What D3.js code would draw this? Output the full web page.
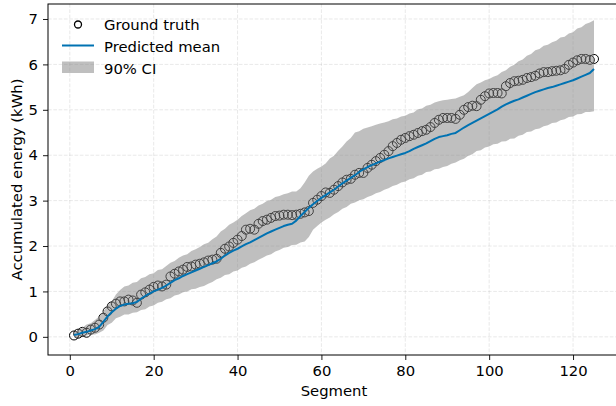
<!DOCTYPE html>
<html>
<head>
<meta charset="utf-8">
<script src="https://cdn.jsdelivr.net/npm/d3@7"></script>
<style>
  body { margin: 0; background: #fff; }
  svg { display: block; font-family: "DejaVu Sans", sans-serif; }
</style>
</head>
<body>
<div id="chart"></div>
<script>
var svgWidth = 616;
var svgHeight = 406;
var fontSize = 14.8;

// ground truth accumulated energy per segment (kWh)
var groundTruth = [
  0.03,0.07,0.11,0.09,0.16,0.20,0.27,0.42,0.56,0.67,
  0.73,0.78,0.78,0.82,0.80,0.75,0.93,0.98,1.04,1.10,
  1.13,1.11,1.15,1.33,1.39,1.44,1.48,1.54,1.55,1.59,
  1.61,1.64,1.68,1.70,1.72,1.85,1.94,1.99,2.07,2.14,
  2.22,2.36,2.38,2.36,2.49,2.55,2.58,2.62,2.66,2.67,
  2.69,2.69,2.68,2.69,2.71,2.74,2.77,2.95,3.02,3.10,
  3.18,3.17,3.24,3.32,3.40,3.46,3.48,3.57,3.61,3.61,
  3.72,3.79,3.87,3.94,4.01,4.09,4.20,4.27,4.34,4.38,
  4.42,4.45,4.49,4.53,4.56,4.62,4.71,4.78,4.82,4.82,
  4.82,4.80,4.89,5.00,5.06,5.09,5.08,5.22,5.30,5.36,
  5.37,5.37,5.36,5.52,5.59,5.63,5.64,5.66,5.70,5.72,
  5.75,5.80,5.83,5.83,5.85,5.86,5.87,5.90,5.99,6.04,
  6.09,6.12,6.12,6.10,6.12
];

// predicted mean
var predMean = [
  0.04,0.06,0.09,0.11,0.14,0.17,0.22,0.33,0.45,0.54,
  0.62,0.68,0.71,0.73,0.74,0.77,0.84,0.90,0.95,1.00,
  1.04,1.08,1.13,1.19,1.25,1.29,1.34,1.38,1.42,1.46,
  1.50,1.54,1.58,1.62,1.66,1.72,1.79,1.85,1.90,1.94,
  1.99,2.04,2.08,2.13,2.18,2.23,2.28,2.32,2.36,2.40,
  2.44,2.47,2.49,2.56,2.66,2.75,2.84,2.92,2.99,3.06,
  3.12,3.18,3.24,3.31,3.38,3.44,3.50,3.56,3.63,3.69,
  3.74,3.78,3.82,3.86,3.89,3.93,3.96,3.99,4.02,4.05,
  4.09,4.14,4.18,4.22,4.26,4.31,4.36,4.40,4.42,4.44,
  4.47,4.49,4.55,4.61,4.66,4.71,4.76,4.81,4.86,4.91,
  4.96,5.01,5.07,5.12,5.16,5.20,5.23,5.27,5.31,5.35,
  5.39,5.42,5.45,5.48,5.50,5.53,5.56,5.59,5.62,5.65,
  5.69,5.73,5.77,5.81,5.90
];

// 90% CI bounds
var ciLower = [
  -0.02,0.00,0.02,0.03,0.05,0.05,0.09,0.14,0.26,0.31,
  0.41,0.44,0.49,0.49,0.53,0.54,0.59,0.61,0.67,0.69,
  0.75,0.77,0.83,0.85,0.91,0.93,0.98,1.00,1.05,1.06,
  1.10,1.12,1.17,1.21,1.27,1.30,1.36,1.38,1.44,1.46,
  1.52,1.55,1.61,1.64,1.70,1.74,1.79,1.82,1.88,1.91,
  1.96,1.98,2.02,2.03,2.08,2.10,2.20,2.36,2.44,2.52,
  2.58,2.63,2.70,2.75,2.82,2.86,2.93,2.96,3.01,3.03,
  3.08,3.11,3.16,3.19,3.24,3.27,3.32,3.35,3.40,3.42,
  3.47,3.49,3.55,3.57,3.63,3.64,3.69,3.70,3.74,3.76,
  3.81,3.84,3.89,3.92,3.99,4.02,4.09,4.11,4.17,4.19,
  4.24,4.25,4.30,4.31,4.36,4.37,4.43,4.45,4.51,4.52,
  4.57,4.59,4.64,4.66,4.71,4.72,4.77,4.79,4.84,4.85,
  4.90,4.91,4.95,4.95,4.97
];
var ciUpper = [
  0.08,0.16,0.20,0.27,0.30,0.37,0.45,0.56,0.70,0.78,
  0.93,1.03,1.11,1.13,1.19,1.21,1.29,1.32,1.38,1.40,
  1.47,1.49,1.56,1.63,1.67,1.74,1.79,1.82,1.89,1.93,
  1.98,2.04,2.07,2.15,2.21,2.32,2.38,2.47,2.52,2.58,
  2.66,2.72,2.79,2.82,2.89,2.93,2.99,3.02,3.08,3.10,
  3.14,3.16,3.20,3.20,3.27,3.40,3.55,3.64,3.70,3.75,
  3.82,3.93,3.99,4.10,4.19,4.30,4.38,4.50,4.53,4.58,
  4.61,4.64,4.67,4.70,4.72,4.75,4.79,4.81,4.85,4.87,
  4.92,4.94,5.01,5.03,5.09,5.11,5.16,5.19,5.21,5.22,
  5.24,5.25,5.29,5.32,5.39,5.48,5.56,5.60,5.65,5.68,
  5.73,5.76,5.83,5.87,5.95,5.99,6.07,6.11,6.19,6.23,
  6.31,6.34,6.41,6.43,6.49,6.52,6.59,6.61,6.68,6.71,
  6.79,6.82,6.89,6.92,6.97
];

var xTicks = [0, 20, 40, 60, 80, 100, 120];
var yTicks = [0, 1, 2, 3, 4, 5, 6, 7];

// plot area in pixels (right spine sits just past the crop)
var plot = { left: 48, right: 620, top: 4, bottom: 355 };

var theData = groundTruth.map(function(v, i){
  return { seg: i + 1, truth: v, mean: predMean[i], lo: ciLower[i], hi: ciUpper[i] };
});

var svg = d3.select("#chart")
  .append("svg")
  .attr("width", svgWidth)
  .attr("height", svgHeight);

var xScale = d3.scaleLinear().domain([-5.2, 131.2]).range([plot.left, plot.right]);
var yScale = d3.scaleLinear().domain([-0.4, 7.33]).range([plot.bottom, plot.top]);

// grid
var grid = svg.append("g")
  .attr("stroke", "#b0b0b0")
  .attr("stroke-opacity", 0.35)
  .attr("stroke-width", 0.8)
  .attr("stroke-dasharray", "3.7,1.6");

grid.selectAll(".vgrid").data(xTicks).enter()
  .append("line")
  .attr("x1", d => xScale(d)).attr("x2", d => xScale(d))
  .attr("y1", plot.top).attr("y2", plot.bottom);

grid.selectAll(".hgrid").data(yTicks).enter()
  .append("line")
  .attr("y1", d => yScale(d)).attr("y2", d => yScale(d))
  .attr("x1", plot.left).attr("x2", plot.right);

// ground truth circles (drawn first, band goes over them)
svg.append("g").selectAll("circle")
  .data(theData)
  .enter()
  .append("circle")
  .attr("cx", d => xScale(d.seg))
  .attr("cy", d => yScale(d.truth))
  .attr("r", 4.5)
  .attr("fill", "none")
  .attr("stroke", "#000")
  .attr("stroke-width", 1);

// CI band
var band = d3.area()
  .x(d => xScale(d.seg))
  .y0(d => yScale(d.lo))
  .y1(d => yScale(d.hi));

svg.append("path")
  .datum(theData)
  .attr("d", band)
  .attr("fill", "#808080")
  .attr("fill-opacity", 0.5);

// predicted mean line
var meanLine = d3.line()
  .x(d => xScale(d.seg))
  .y(d => yScale(d.mean));

svg.append("path")
  .datum(theData)
  .attr("d", meanLine)
  .attr("fill", "none")
  .attr("stroke", "#0072B2")
  .attr("stroke-width", 2)
  .attr("stroke-linejoin", "round");

// axes
var bottomAxis = d3.axisBottom(xScale).tickValues(xTicks).tickSize(5).tickPadding(5);
var leftAxis = d3.axisLeft(yScale).tickValues(yTicks).tickSize(5).tickPadding(5);

var xAxis = svg.append("g")
  .attr("transform", `translate(0, ${plot.bottom})`)
  .call(bottomAxis);
xAxis.select(".domain").remove();

var yAxis = svg.append("g")
  .attr("transform", `translate(${plot.left}, 0)`)
  .call(leftAxis);
yAxis.select(".domain").remove();

svg.selectAll(".tick text")
  .attr("font-size", fontSize)
  .attr("font-family", "DejaVu Sans")
  .attr("fill", "#000");
svg.selectAll(".tick line").attr("stroke", "#000").attr("stroke-width", 0.9);

// spines
svg.append("rect")
  .attr("x", plot.left)
  .attr("y", plot.top)
  .attr("width", plot.right - plot.left)
  .attr("height", plot.bottom - plot.top)
  .attr("fill", "none")
  .attr("stroke", "#000")
  .attr("stroke-width", 1);

// axis labels
svg.append("text")
  .attr("x", (plot.left + plot.right) / 2)
  .attr("y", 396)
  .attr("text-anchor", "middle")
  .attr("font-size", fontSize)
  .text("Segment");

svg.append("text")
  .attr("transform", `translate(21.5, ${(plot.top + plot.bottom) / 2}) rotate(-90)`)
  .attr("text-anchor", "middle")
  .attr("font-size", fontSize)
  .text("Accumulated energy (kWh)");

// legend
var legend = svg.append("g").attr("font-size", fontSize);

legend.append("circle")
  .attr("cx", 78).attr("cy", 24.5).attr("r", 3.5)
  .attr("fill", "none").attr("stroke", "#000").attr("stroke-width", 1.3);
legend.append("text").attr("x", 104).attr("y", 29.5).text("Ground truth");

legend.append("line")
  .attr("x1", 62).attr("x2", 94).attr("y1", 45.5).attr("y2", 45.5)
  .attr("stroke", "#0072B2").attr("stroke-width", 2);
legend.append("text").attr("x", 104).attr("y", 51.5).text("Predicted mean");

legend.append("rect")
  .attr("x", 62).attr("y", 61.5).attr("width", 32).attr("height", 11.5)
  .attr("fill", "#808080").attr("fill-opacity", 0.5);
legend.append("text").attr("x", 104).attr("y", 73.5).text("90% CI");
</script>
</body>
</html>
